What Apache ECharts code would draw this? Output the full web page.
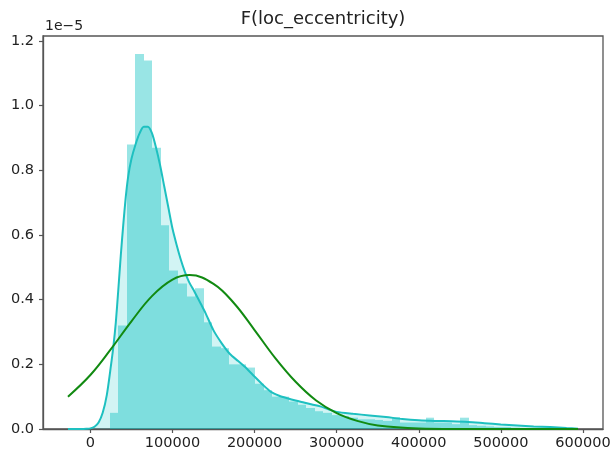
<!DOCTYPE html>
<html>
<head>
<meta charset="utf-8">
<script src="https://cdn.jsdelivr.net/npm/echarts@6/dist/echarts.min.js"></script>
<style>html,body{margin:0;padding:0;background:#fff}#c{width:615px;height:454px}</style>
</head>
<body>
<div id="c"></div>
<script>
// Histogram bin edges (x units) and densities (×1e-5)
var binEdges = [23500,33910,44320,54730,65140,75550,85960,96370,106780,117190,127600,138010,148420,158830,169240,179650,190060,200470,210880,221290,231700,242110,252520,262930,273340,283750,294160,304570,314980,325390,335800,346210,356620,367030,377440,387850,398260,408670,419080,429490,439900,450310,460720,471130,481540,491950,502360,512770,523180,533590,544000];
var histHeights = [0.05,0.32,0.88,1.16,1.14,0.87,0.63,0.49,0.45,0.41,0.435,0.33,0.255,0.25,0.20,0.20,0.19,0.14,0.12,0.10,0.10,0.085,0.075,0.065,0.055,0.05,0.043,0.04,0.035,0.03,0.03,0.028,0.025,0.037,0.02,0.02,0.02,0.035,0.02,0.02,0.015,0.035,0.012,0.01,0.008,0.006,0.006,0.004,0.003,0.003];

// KDE curve points
var kdeX = [-27300,-15000,-5000,0,5000,10000,15000,20000,25000,28000,31000,34000,37000,40000,43000,46000,50000,55000,60000,65000,70000,75000,80000,85000,90000,95000,100000,105000,110000,115000,120000,127000,135000,140000,150000,160000,170000,180000,190000,200000,210000,220000,230000,240000,250000,260000,270000,280000,290000,300000,320000,340000,360000,380000,400000,420000,440000,460000,480000,500000,520000,540000,560000,580000,594000];
var kdeY = [0,0,0.001,0.002,0.007,0.02,0.05,0.105,0.195,0.255,0.33,0.43,0.535,0.63,0.715,0.78,0.835,0.88,0.915,0.935,0.935,0.915,0.87,0.815,0.75,0.685,0.62,0.57,0.525,0.487,0.456,0.424,0.385,0.36,0.305,0.265,0.232,0.21,0.188,0.162,0.137,0.115,0.103,0.095,0.088,0.082,0.076,0.07,0.061,0.053,0.047,0.042,0.037,0.031,0.027,0.025,0.024,0.022,0.018,0.014,0.011,0.008,0.006,0.003,0.001];

// Normal fit curve points
var fitX = [-27300,0,25000,50000,75000,100000,121000,150000,175000,200000,225000,250000,275000,300000,325000,350000,400000,450000,500000,550000,594000];
var fitY = [0.10,0.167,0.247,0.333,0.411,0.462,0.476,0.449,0.389,0.306,0.22,0.146,0.088,0.049,0.025,0.011,0.0019,0.0002,0.0,0.0,0.0];

var xTicks = [0,100000,200000,300000,400000,500000,600000];
var yTicks = [0,0.2,0.4,0.6,0.8,1.0,1.2];

var FONT = 'DejaVu Sans';
var histData = histHeights.map(function(h,i){return [binEdges[i], binEdges[i+1], h];});
var kdeData = kdeX.map(function(x,i){return [x,kdeY[i]];});
var fitData = fitX.map(function(x,i){return [x,fitY[i]];});

var chart = echarts.init(document.getElementById('c'), null, {renderer:'canvas'});
chart.setOption({
  animation:false,
  backgroundColor:'#fff',
  title:{text:'F(loc_eccentricity)', left:323, top:10, textAlign:'center', padding:0,
    textStyle:{fontFamily:FONT, fontSize:18, fontWeight:'normal', color:'#222'}},
  graphic:[{type:'text', left:45, top:19, style:{text:'1e\u22125', font:'14px "DejaVu Sans"', fill:'#222'}}],
  grid:{left:43, right:12, top:36, bottom:25, show:true, borderColor:'#555', borderWidth:1.3, containLabel:false},
  xAxis:{type:'value', min:-57700, max:624400,
    axisLine:{show:true, onZero:false, lineStyle:{color:'#555', width:1.3}},
    axisTick:{show:true, length:4, customValues:xTicks, lineStyle:{color:'#555', width:1.2}},
    axisLabel:{customValues:xTicks, margin:7, fontFamily:FONT, fontSize:14.5, color:'#222', formatter:function(v){return String(v);}},
    splitLine:{show:false}},
  yAxis:{type:'value', min:0, max:1.2155,
    axisLine:{show:true, onZero:false, lineStyle:{color:'#555', width:1.3}},
    axisTick:{show:true, length:4, customValues:yTicks, lineStyle:{color:'#555', width:1.2}},
    axisLabel:{customValues:yTicks, margin:9, fontFamily:FONT, fontSize:14.5, color:'#222', formatter:function(v){return v.toFixed(1);}},
    splitLine:{show:false}},
  series:[
    {type:'custom', data:histData, z:1,
     renderItem:function(params, api){
       var p0 = api.coord([api.value(0), api.value(2)]);
       var p1 = api.coord([api.value(1), 0]);
       var x0 = Math.round(p0[0]), x1 = Math.round(p1[0]);
       return {type:'rect', shape:{x:x0, y:p0[1], width:x1-x0, height:p1[1]-p0[1]},
         style:{fill:'rgba(0,191,191,0.4)'}};
     }},
    {type:'line', data:kdeData, smooth:0.25, showSymbol:false, z:2,
     lineStyle:{color:'#1ec0c0', width:2}, areaStyle:{color:'rgba(0,191,191,0.25)'}},
    {type:'line', data:fitData, smooth:0.4, showSymbol:false, z:3,
     lineStyle:{color:'#118a11', width:2}}
  ]
});
</script>
</body>
</html>
